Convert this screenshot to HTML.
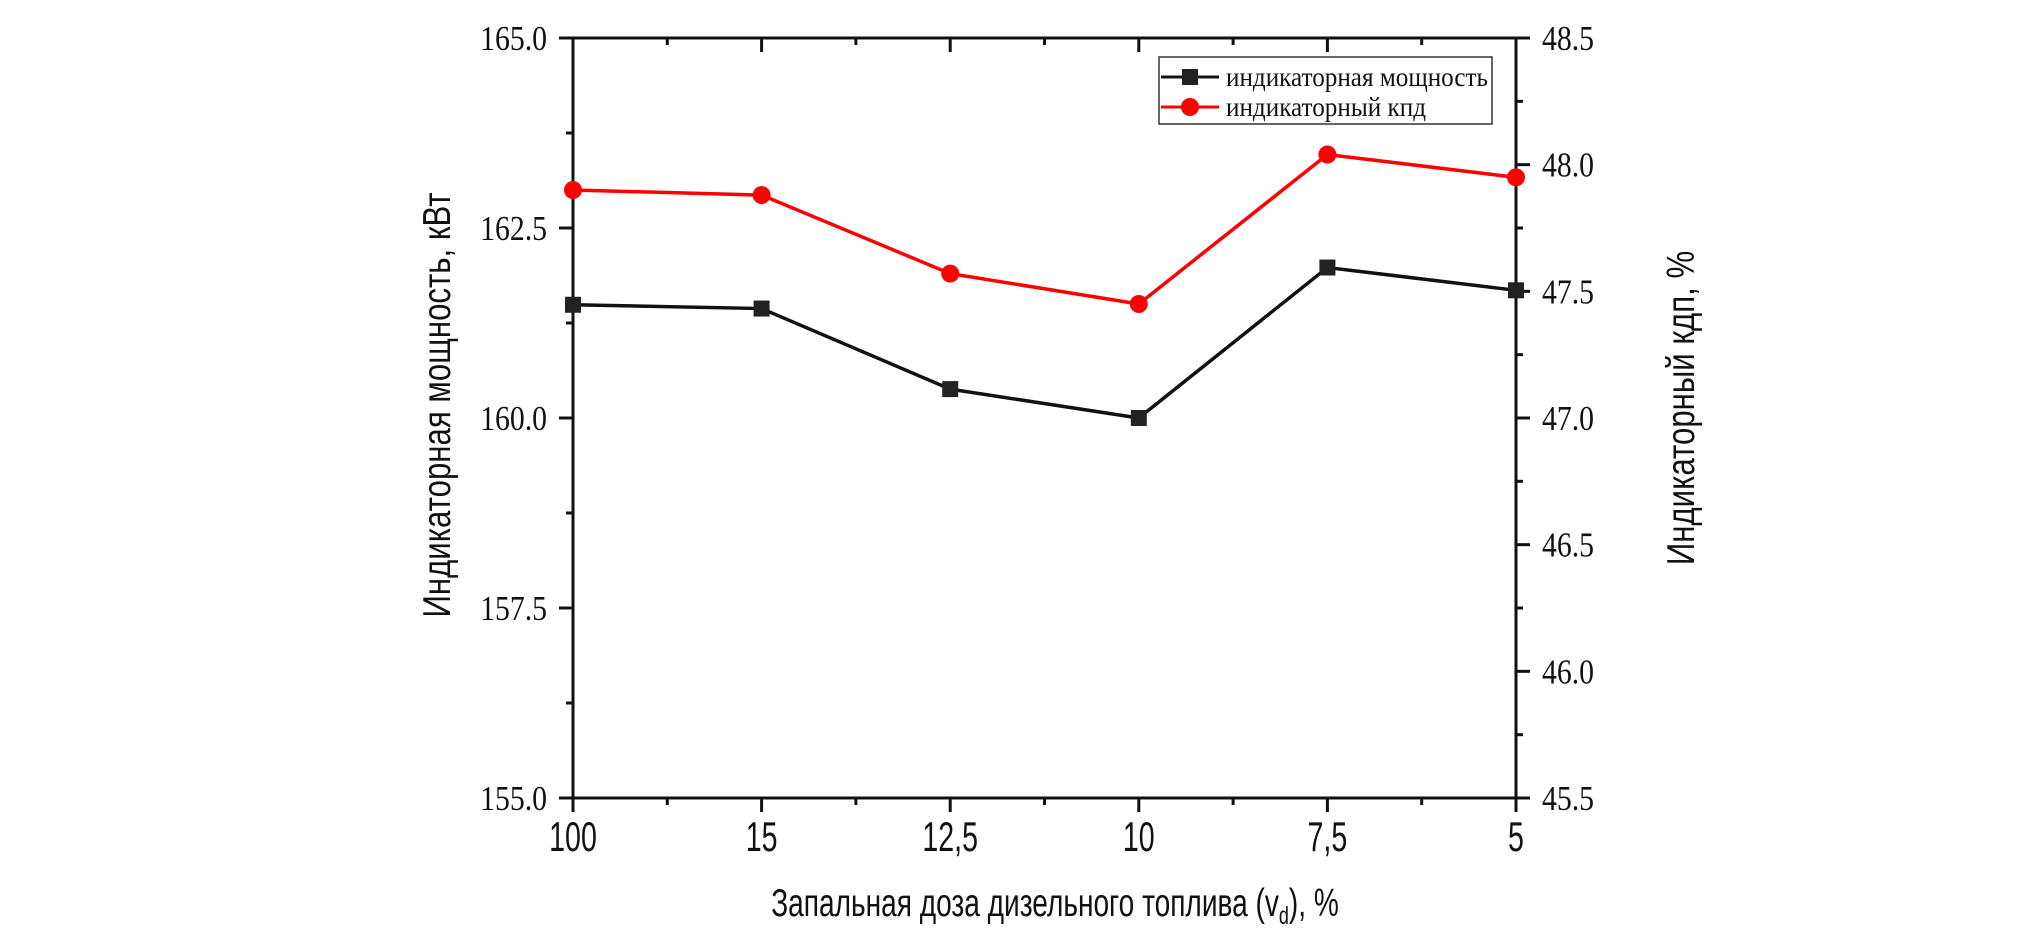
<!DOCTYPE html>
<html><head><meta charset="utf-8"><style>
html,body{margin:0;padding:0;background:#fff;}
svg{display:block;}
.tnr{font-family:"Liberation Serif","DejaVu Serif",serif;}
.sans{font-family:"Liberation Sans","DejaVu Sans",sans-serif;}
</style></head><body>
<svg id="chart" width="2020" height="933" viewBox="0 0 2020 933" xmlns="http://www.w3.org/2000/svg">
<rect x="0" y="0" width="2020" height="933" fill="#fff"/>
<g id="axes"></g>
<g id="series"></g>
<g id="legend">
  <rect x="1159" y="57" width="333" height="67" fill="#fff" stroke="#333" stroke-width="1.5"/>
  <g>
    <line x1="1161" y1="77" x2="1219" y2="77" stroke="#111" stroke-width="3"/>
    <rect x="1182" y="69" width="16" height="16" fill="#222"/>
    <text class="tnr" x="1226" y="86" font-size="27" fill="#111" textLength="262" lengthAdjust="spacingAndGlyphs">индикаторная мощность</text>
  </g>
  <g>
    <line x1="1161" y1="107" x2="1219" y2="107" stroke="#f00" stroke-width="3"/>
    <circle cx="1190" cy="107" r="9" fill="#f00"/>
    <text class="tnr" x="1226" y="116" font-size="27" fill="#111" textLength="200" lengthAdjust="spacingAndGlyphs">индикаторный кпд</text>
  </g>
</g>
<text class="sans" transform="translate(1055,916) scale(0.72,1)" text-anchor="middle" font-size="39" fill="#111">Запальная доза дизельного топлива (v<tspan font-size="25" dy="8">d</tspan><tspan dy="-8">), %</tspan></text>
<text class="sans" transform="translate(450,405) rotate(-90) scale(0.8,1)" text-anchor="middle" font-size="39" fill="#111">Индикаторная мощность, кВт</text>
<text class="sans" transform="translate(1694,408) rotate(-90) scale(0.8,1)" text-anchor="middle" font-size="39" fill="#111">Индикаторный кдп, %</text>
</svg>
<script>
const categories = ["100","15","12,5","10","7,5","5"];
const powerValues = [161.49, 161.44, 160.38, 160.0, 161.98, 161.68];
const efficiencyValues = [47.90, 47.88, 47.57, 47.45, 48.04, 47.95];
const leftTicks = ["155.0","157.5","160.0","162.5","165.0"];
const rightTicks = ["45.5","46.0","46.5","47.0","47.5","48.0","48.5"];

const NS="http://www.w3.org/2000/svg";
const L=573,R=1516,T=38,B=798;
const yL0=155,yL1=165,yR0=45.5,yR1=48.5;
function xPos(i){return L+(R-L)*i/(categories.length-1);}
function yLeft(v){return B-(v-yL0)/(yL1-yL0)*(B-T);}
function yRight(v){return B-(v-yR0)/(yR1-yR0)*(B-T);}
function mk(tag,attrs,parent){const e=document.createElementNS(NS,tag);for(const k in attrs)e.setAttribute(k,attrs[k]);parent.appendChild(e);return e;}
const axes=document.getElementById('axes');
const series=document.getElementById('series');
const st={stroke:"#111","stroke-width":3};
let fr=mk('rect',{x:L,y:T,width:R-L,height:B-T,fill:"none",stroke:"#111","stroke-width":3},axes);


for(let i=0;i<categories.length;i++){
  const x=xPos(i);
  mk('line',{x1:x,y1:B,x2:x,y2:B+14,...st},axes);
  mk('line',{x1:x,y1:T,x2:x,y2:T+14,...st},axes);
  if(i<categories.length-1){
    const xm=(x+xPos(i+1))/2;
    mk('line',{x1:xm,y1:B,x2:xm,y2:B+7,...st},axes);
    mk('line',{x1:xm,y1:T,x2:xm,y2:T+7,...st},axes);
  }
  const t=mk('text',{transform:`translate(${x},851) scale(0.68,1)`,"text-anchor":"middle","font-size":42,fill:"#111",class:"sans"},axes);
  t.textContent=categories[i];
  
  
}
leftTicks.forEach((lab,i)=>{
  const v=parseFloat(lab),y=yLeft(v);
  mk('line',{x1:L-14,y1:y,x2:L,y2:y,...st},axes);
  if(i<leftTicks.length-1){const ym=yLeft(v+1.25);mk('line',{x1:L-7,y1:ym,x2:L,y2:ym,...st},axes);}
  const t=mk('text',{transform:`translate(547,${y+12}) scale(0.85,1)`,"text-anchor":"end","font-size":35,fill:"#111",class:"tnr"},axes);
  t.textContent=lab;
  
  
});
rightTicks.forEach((lab,i)=>{
  const v=parseFloat(lab),y=yRight(v);
  mk('line',{x1:R,y1:y,x2:R+14,y2:y,...st},axes);
  if(i<rightTicks.length-1){const ym=yRight(v+0.25);mk('line',{x1:R,y1:ym,x2:R+7,y2:ym,...st},axes);}
  const t=mk('text',{transform:`translate(1542,${y+12}) scale(0.85,1)`,"text-anchor":"start","font-size":35,fill:"#111",class:"tnr"},axes);
  t.textContent=lab;
  
  
});
let pts=efficiencyValues.map((v,i)=>xPos(i)+","+yRight(v)).join(" ");
let pl=mk('polyline',{points:pts,fill:"none",stroke:"#f00","stroke-width":3.5},series);


efficiencyValues.forEach((v,i)=>{
  const c=mk('circle',{cx:xPos(i),cy:yRight(v),r:9,fill:"#f00"},series);
  
  
});
pts=powerValues.map((v,i)=>xPos(i)+","+yLeft(v)).join(" ");
pl=mk('polyline',{points:pts,fill:"none",stroke:"#111","stroke-width":3.5},series);


powerValues.forEach((v,i)=>{
  const r=mk('rect',{x:xPos(i)-8,y:yLeft(v)-8,width:16,height:16,fill:"#222"},series);
  
  
});
</script>
</body></html>
